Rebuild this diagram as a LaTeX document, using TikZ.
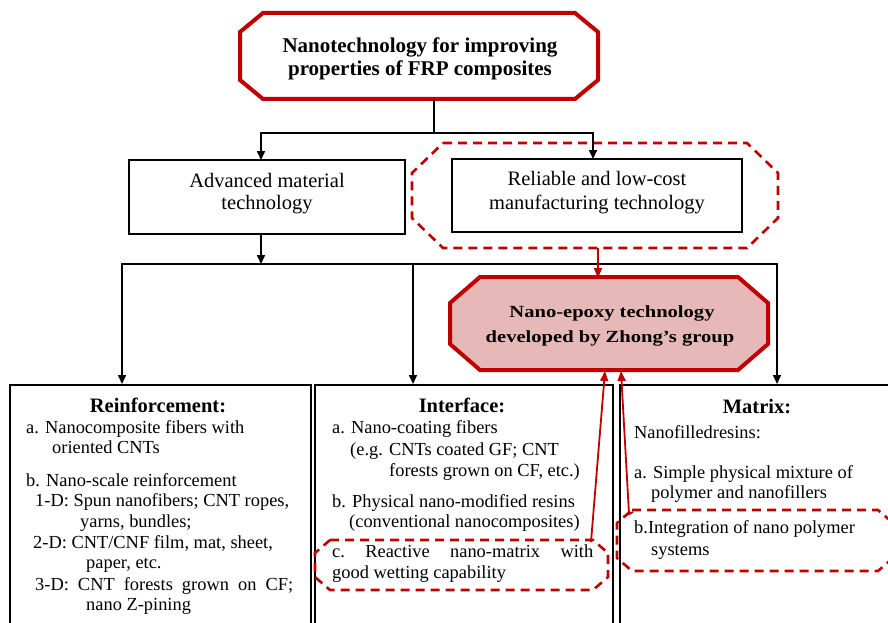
\documentclass[tikz,border=0pt]{standalone}
\usepackage{fontspec}
\setmainfont{Liberation Serif}
\usetikzlibrary{arrows.meta}
\definecolor{dred}{HTML}{C00000}
\definecolor{pinkfill}{HTML}{E6B9B8}
% octagon: style, x1, y1, x2, y2, cx, cy
\newcommand\myoct[7]{\draw[#1] ({#2+#6},#3) -- ({#4-#6},#3) -- (#4,{#3+#7}) -- (#4,{#5-#7}) -- ({#4-#6},#5) -- ({#2+#6},#5) -- (#2,{#5-#7}) -- (#2,{#3+#7}) -- cycle;}
\tikzset{
 ln/.style={line width=1.6pt, black},
 arr/.style={ln, -{Triangle[length=9pt,width=8pt]}},
 rarr/.style={line width=1.8pt, dred, -{Triangle[length=10pt,width=8pt]}},
 boxb/.style={draw=black, line width=2.4pt, fill=white, inner sep=0pt},
 bt/.style={inner sep=0pt, font=\fontsize{18.4}{20}\selectfont},
 bl/.style={bt, anchor=base west},
 hd/.style={inner sep=0pt, anchor=base, font=\fontsize{20.5}{22}\selectfont\bfseries},
 mt/.style={inner sep=0pt, anchor=base, font=\fontsize{20.5}{22}\selectfont},
 tt/.style={inner sep=0pt, anchor=base, font=\fontsize{21}{23}\selectfont\bfseries},
 nt/.style={inner sep=0pt, anchor=base, font=\fontsize{17}{19}\selectfont\bfseries},
 rdash/.style={draw=dred, line width=2.6pt, dash pattern=on 9pt off 6pt},
}
\begin{document}
\begin{tikzpicture}[x=1pt,y=-1pt]
\useasboundingbox (0,0) rectangle (888,623);
\clip (0,0) rectangle (888,623);
\fill[white] (0,0) rectangle (888,623);

% ---------- top box ----------
\myoct{draw=dred, line width=4pt, fill=white}{240}{13}{598}{99}{23}{19}
\node[tt] (t1) at (420,53) {Nanotechnology for improving};
\node[tt] (t2) at (420,76) {properties of FRP composites};

% ---------- second row ----------
\node[boxb, minimum width=276, minimum height=74] (adv) at (267,197) {};
\node[mt] (adv1) at (267,187) {Advanced material};
\node[mt] (adv2) at (267,209) {technology};

\myoct{rdash}{412}{143}{778}{248}{31}{30}
\node[boxb, minimum width=290, minimum height=73] (rel) at (597,195.5) {};
\node[mt] (rel1) at (597,185) {Reliable and low-cost};
\node[mt] (rel2) at (597,209) {manufacturing technology};

% ---------- nano-epoxy box ----------
\myoct{draw=dred, line width=4pt, fill=pinkfill}{450}{277}{768}{370}{30}{26}
\node[nt] (n1) at (612,317) {\scalebox{1.21}[1]{Nano-epoxy technology}};
\node[nt] (n2) at (610,342) {\scalebox{1.21}[1]{developed by Zhong\char"27 s group}};

% ---------- bottom boxes ----------
\node[boxb, anchor=north west, minimum width=301, minimum height=260] (rein) at (9,384) {};
\node[boxb, anchor=north west, minimum width=298, minimum height=260] (intf) at (314,384) {};
\node[boxb, anchor=north west, minimum width=290, minimum height=260] (matx) at (619,384) {};

% dashed highlight boxes
\myoct{rdash}{315}{540}{608}{590}{15}{13}
\myoct{rdash}{617}{510}{893}{571}{15}{13}

% Reinforcement text
\node[hd] (rh) at (158,412) {Reinforcement:};
\node[bl] (r1) at (26,433) {a. Nanocomposite fibers with};
\node[bl] (r2) at (52,453) {oriented CNTs};
\node[bl] (r3) at (26,486) {b. Nano-scale reinforcement};
\node[bl] (r4) at (35,506) {1-D: Spun nanofibers; CNT ropes,};
\node[bl] (r5) at (80,527) {yarns, bundles;};
\node[bl] (r6) at (33,548) {2-D: CNT/CNF film, mat, sheet,};
\node[bl] (r7) at (86,568) {paper, etc.};
\node[bl] (r8) at (35,590) {\hbox to 258pt{3-D:\hfill CNT\hfill forests\hfill grown\hfill on\hfill CF;}};
\node[bl] (r9) at (86,610) {nano Z-pining};

% Interface text
\node[hd] (ih) at (462,412) {Interface:};
\node[bl] (i1) at (332,433) {a. Nano-coating fibers};
\node[bl] (i2) at (350,455) {(e.g. CNTs coated GF; CNT};
\node[bl] (i3) at (389,476) {forests grown on CF, etc.)};
\node[bl] (i4) at (332,507) {b. Physical nano-modified resins};
\node[bl] (i5) at (349,527) {(conventional nanocomposites)};
\node[bl] (i6) at (332,557) {\hbox to 261pt{c.\hfill Reactive\hfill nano-matrix\hfill with}};
\node[bl] (i7) at (332,578) {good wetting capability};

% Matrix text
\node[hd] (mh) at (757,413) {Matrix:};
\node[bl] (m1) at (634,438) {Nanofilledresins:};
\node[bl] (m2) at (634,478) {a. Simple physical mixture of};
\node[bl] (m3) at (651,498) {polymer and nanofillers};
\node[bl] (m4) at (634,533) {b.Integration of nano polymer};
\node[bl] (m5) at (651,555) {systems};

% ---------- connectors ----------
\coordinate (topOut) at (434,99);
\coordinate (jTop) at (434,133);
\coordinate (advIn) at (261,160);
\coordinate (relIn) at (593,159);
\coordinate (advOut) at (261,234);
\coordinate (jMid) at (261,264);
\coordinate (reinIn) at (122,384);
\coordinate (intIn) at (413,384);
\coordinate (matIn) at (777,384);
\draw[ln] (topOut) -- (jTop);
\draw[arr] (jTop) -| (advIn);
\draw[arr] (jTop) -| (relIn);
\draw[arr] (advOut) -- (jMid);
\draw[arr] (jMid) -| (reinIn);
\draw[arr] (jMid) -| (intIn);
\draw[arr] (jMid) -| (matIn);

\coordinate (relDashOut) at (598,248);
\coordinate (nanoIn) at (598,278);
\coordinate (cOut) at (591,542);
\coordinate (nanoIn1) at (605,371);
\coordinate (bOut) at (633,512);
\coordinate (bBend) at (629,514);
\coordinate (nanoIn2) at (621,371);
\draw[rarr] (relDashOut) -- (nanoIn);
\draw[rarr] (cOut) -- (nanoIn1);
\draw[rarr] (bOut) -- (bBend) -- (nanoIn2);
\end{tikzpicture}
\end{document}
